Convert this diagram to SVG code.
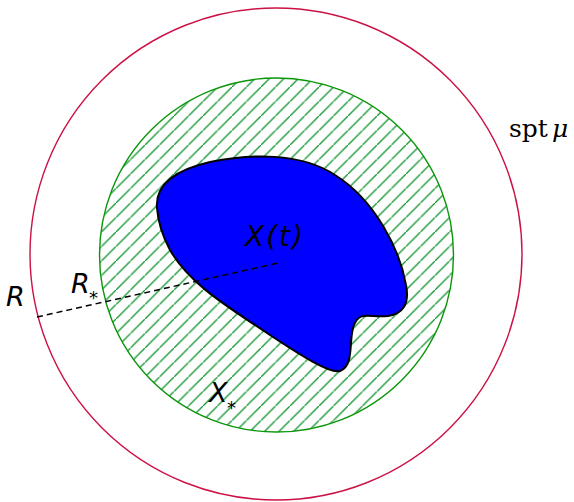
<svg xmlns="http://www.w3.org/2000/svg" width="574" height="502" viewBox="0 0 574 502">
  <style>
    .lbl { font-family: "DejaVu Sans", "Liberation Sans", sans-serif; font-style: italic; fill: #000; }
    .sub { font-family: "DejaVu Sans", "Liberation Sans", sans-serif; fill: #000; }
    .serif { font-family: "DejaVu Serif", "Liberation Serif", serif; fill: #000; }
  </style>
  <defs>
    <pattern id="hatch" patternUnits="userSpaceOnUse" width="14.5" height="14.5">
      <path d="M-1,15.5 L15.5,-1 M-8,7.25 L7.25,-8 M7.25,22.5 L22.5,7.25" stroke="#1f9a3a" stroke-width="1.4" fill="none"/>
    </pattern>
  </defs>

  <g id="spt-mu">
    <circle cx="276" cy="254" r="246" fill="none" stroke="#cc1144" stroke-width="1.4"/>
    <text class="serif" x="509" y="137" font-size="25">spt</text>
    <text class="serif" x="552" y="137" font-size="25" font-style="italic">μ</text>
  </g>

  <g id="x-star">
    <circle cx="276.5" cy="255" r="177" fill="url(#hatch)" stroke="#0a960a" stroke-width="1.4"/>
    <text class="lbl" x="209" y="402" font-size="27">X</text>
    <text class="sub" x="227" y="414" font-size="18">*</text>
  </g>

  <g id="x-t">
    <path d="M 157,208 C 155,185 175,170 210,162 C 250,154 300,152 335,175 C 375,200 400,250 406,285 C 410,305 402,314 388,316 C 370,318 360,310 354,325 C 348,340 355,365 340,371 C 330,374 300,355 270,335 C 230,308 190,285 170,250 C 162,235 158,222 157,208 Z" fill="#0000ff" stroke="#000" stroke-width="2"/>
    <text class="lbl" x="245" y="246" font-size="28" textLength="58" lengthAdjust="spacing">X(t)</text>
  </g>

  <g id="connectors">
    <line x1="37" y1="317" x2="278" y2="263" stroke="#000" stroke-width="1.5" stroke-dasharray="6 4"/>
  </g>

  <g id="r">
    <text class="lbl" x="6" y="306" font-size="27">R</text>
  </g>
  <g id="r-star">
    <text class="lbl" x="71" y="293" font-size="27">R</text>
    <text class="sub" x="89" y="304" font-size="18">*</text>
  </g>
</svg>
